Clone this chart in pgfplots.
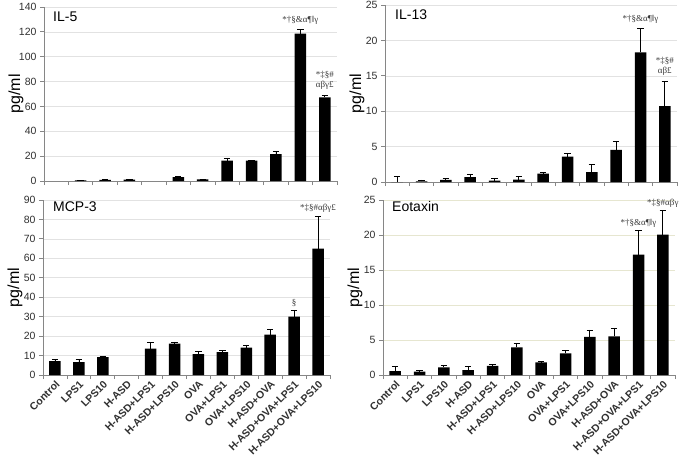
\documentclass[border=0pt]{standalone}
\usepackage{fontspec}
\setmainfont{Liberation Sans}
\newfontfamily\annfont{Liberation Serif}
\usepackage{pgfplots}
\pgfplotsset{compat=1.18}

\definecolor{axgray}{HTML}{868686}
\definecolor{gridgray}{HTML}{E2E2E2}
\definecolor{gridyel}{HTML}{E6E6D0}
\definecolor{txt}{HTML}{303030}
\definecolor{anncol}{HTML}{3A3A3A}

\pgfplotsset{
  panel/.style={
    scale only axis, anchor=south west,
    ybar, bar width=11.5pt,
    xmin=-0.5, xmax=11.5, ymin=0,
    axis x line*=bottom, axis y line*=left,
    axis line style={axgray, line width=0.8pt},
    tick align=outside, major tick length=4pt, minor tick length=4pt,
    tick style={axgray, line width=0.8pt},
    xtick={0,...,11}, minor xtick={-0.5,0.5,...,11.5},
    every major x tick/.append style={draw=none},
    ymajorgrids, major grid style={gridgray, line width=0.6pt},
    /pgf/number format/assume math mode=true,
    y tick label style={font=\fontsize{10.5}{12}\selectfont, color=txt},
    ylabel={pg/ml},
    ylabel style={at={(axis description cs:0,0.5)}, anchor=center, yshift=28pt,
      font=\fontsize{16}{18}\selectfont},
    clip=false,
  },
  nolabels/.style={xticklabels={}},
  catlabels/.style={
    xticklabels={Control,LPS1,LPS10,H-ASD,H-ASD+LPS1,H-ASD+LPS10,OVA,OVA+LPS1,OVA+LPS10,H-ASD+OVA,H-ASD+OVA+LPS1,H-ASD+OVA+LPS10},
    x tick label style={rotate=45, anchor=north east, inner sep=0.5pt,
      font=\bfseries\fontsize{10.5}{12}\selectfont, color=txt},
  },
  barplot/.style={fill=black, draw=none,
    error bars/.cd, y dir=plus, y explicit,
    error bar style={black, line width=0.7pt},
    error mark options={rotate=90, mark size=3.2pt, line width=0.7pt, black}},
}
\tikzset{
  ann/.style={font=\annfont\fontsize{9}{9.5}\selectfont, color=anncol, anchor=south,
    inner sep=0pt, align=center},
  ttl/.style={font=\fontsize{14}{16}\selectfont, anchor=north west, inner sep=0pt},
}

\begin{document}
\begin{tikzpicture}
\path[use as bounding box] (0,0) rectangle (685pt,459pt);

% IL-5 (Control and H-ASD+LPS1 show no bar)
\begin{axis}[panel, nolabels, at={(44pt,278pt)}, width=293pt, height=174pt,
  ymax=140, ytick={0,20,...,140}]
\addplot[barplot] table[x=x, y=y, y error=e] {
x y e
1 0.5 0.2
2 0.9 0.2
3 1.2 0.3
5 3.2 0.4
6 1.3 0.3
7 16.4 2.2
8 16.3 0.5
9 21.7 1.8
10 118.5 3.5
11 67.2 1.8
};
\node[ttl] at (axis description cs:0,1) [xshift=9pt, yshift=-5pt] {IL-5};
\node[ann] at (axis cs:10,122) [yshift=5pt] {*†§\&α¶‖γ};
\node[ann] at (axis cs:11,69) [yshift=6pt] {*‡§\#\\αβγ£};
\end{axis}

% IL-13
\begin{axis}[panel, nolabels, at={(385pt,277pt)}, width=292pt, height=177pt,
  ymax=25, ytick={0,5,...,25}]
\addplot[barplot] table[x=x, y=y, y error=e] {
x y e
0 0 0.75
1 0.1 0.2
2 0.3 0.25
3 0.7 0.45
4 0.2 0.35
5 0.35 0.45
6 1.2 0.1
7 3.6 0.4
8 1.4 1.05
9 4.55 1.2
10 18.3 3.35
11 10.7 3.5
};
\node[ttl] at (axis description cs:0,1) [xshift=10pt, yshift=-5pt] {IL-13};
\node[ann] at (axis cs:10,21.65) [yshift=5pt] {*†§\&α¶‖γ};
\node[ann] at (axis cs:11,14.2) [yshift=6pt] {*‡§\#\\αβ£};
\end{axis}

% MCP-3 (H-ASD shows no bar)
\begin{axis}[panel, catlabels, at={(43pt,84pt)}, width=287pt, height=175pt,
  ymax=90, ytick={0,10,...,90}]
\addplot[barplot] table[x=x, y=y, y error=e] {
x y e
0 7.2 1.0
1 6.6 1.6
2 9.2 0.3
4 13.6 3.1
5 16.2 0.8
6 10.7 1.4
7 11.8 1.0
8 14.1 1.4
9 20.8 2.7
10 30 3
11 65 16.4
};
\node[ttl] at (axis description cs:0,1) [xshift=10pt, yshift=-2pt] {MCP-3};
\node[ann] at (axis cs:10,33) [yshift=4pt] {§};
\node[ann] at (axis cs:11,81.4) [yshift=4pt] {*‡§\#αβγ£};
\end{axis}

% Eotaxin
\begin{axis}[panel, catlabels, at={(383pt,84pt)}, width=292pt, height=175pt,
  ymax=25, ytick={0,5,...,25}, major grid style={gridyel, line width=0.6pt}]
\addplot[barplot] table[x=x, y=y, y error=e] {
x y e
0 0.57 0.67
1 0.48 0.2
2 1.1 0.33
3 0.71 0.48
4 1.29 0.23
5 3.95 0.62
6 1.81 0.1
7 3.1 0.42
8 5.43 1.0
9 5.52 1.2
10 17.2 3.5
11 20.05 3.5
};
\node[ttl] at (axis description cs:0,1) [xshift=9pt, yshift=-1pt] {Eotaxin};
\node[ann] at (axis cs:10,20.7) [yshift=2pt] {*†§\&α¶‖γ};
\node[ann] at (axis cs:11,23.55) [yshift=3pt] {*‡§\#αβγ};
\end{axis}
\end{tikzpicture}
\end{document}
